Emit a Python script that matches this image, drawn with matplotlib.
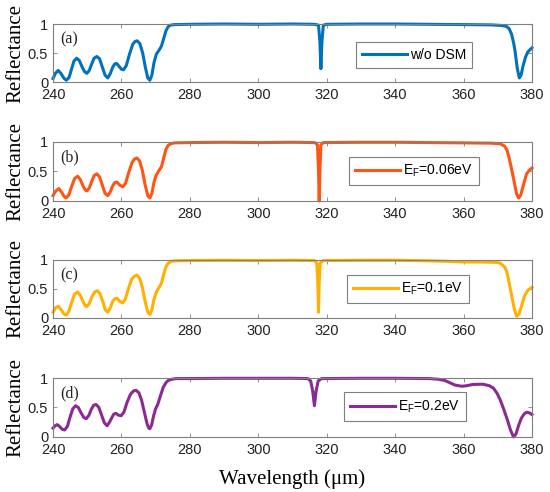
import numpy as np
import matplotlib.pyplot as plt

plt.rcParams['font.family'] = ['Liberation Sans', 'DejaVu Sans']
plt.rcParams['mathtext.fontset'] = 'custom'
plt.rcParams['mathtext.rm'] = 'Liberation Sans'

# (a) w/o DSM
wl_a = [240.0, 240.7, 241.5, 242.3, 243.1, 243.9, 244.7, 245.4, 246.1, 246.9,
        247.7, 248.5, 249.2, 249.9, 250.6, 251.3, 252.0, 252.8, 253.6, 254.4,
        255.2, 256.0, 256.7, 257.4, 258.0, 258.6, 259.3, 260.0, 260.6, 261.4,
        262.3, 263.3, 264.0, 264.6, 265.4, 266.2, 267.0, 267.7, 268.3, 268.9,
        269.5, 270.2, 271.0, 271.7, 272.4, 273.0, 273.6, 274.3, 275.5, 280.0,
        290.0, 300.0, 310.0, 316.5, 317.6, 318.0, 318.3, 318.6, 319.0, 320.0,
        330.0, 340.0, 350.0, 360.0, 368.0, 371.0, 372.5, 373.3, 374.0, 374.6,
        375.0, 375.7, 376.3, 376.8, 377.4, 378.1, 378.8, 380.0]
r_a = [0.06, 0.15, 0.20, 0.15, 0.07, 0.03, 0.08, 0.22, 0.36, 0.41,
       0.37, 0.26, 0.18, 0.15, 0.20, 0.31, 0.41, 0.44, 0.40, 0.26,
       0.12, 0.07, 0.14, 0.25, 0.31, 0.32, 0.27, 0.22, 0.21, 0.28,
       0.47, 0.65, 0.70, 0.71, 0.66, 0.50, 0.25, 0.07, 0.03, 0.12,
       0.33, 0.48, 0.55, 0.62, 0.76, 0.88, 0.95, 0.98, 0.99, 0.995,
       1.0, 0.995, 1.0, 0.995, 0.98, 0.70, 0.23, 0.70, 0.98, 0.995,
       1.0, 1.0, 0.995, 0.99, 0.985, 0.975, 0.96, 0.92, 0.83, 0.68,
       0.55, 0.23, 0.07, 0.12, 0.28, 0.43, 0.52, 0.59]

# (b) EF = 0.06 eV
wl_b = [240.0, 240.8, 241.7, 242.5, 243.2, 243.8, 244.6, 245.4, 246.3, 247.2,
        248.0, 248.8, 249.4, 249.9, 250.6, 251.3, 252.0, 252.8, 253.6, 254.4,
        255.2, 256.0, 256.7, 257.4, 258.0, 258.7, 259.5, 260.4, 261.2, 262.1,
        263.1, 263.8, 264.5, 265.3, 266.1, 266.9, 267.7, 268.3, 268.9, 269.5,
        270.1, 270.9, 271.7, 272.4, 273.0, 273.6, 274.4, 275.5, 280.0, 290.0,
        300.0, 310.0, 316.5, 317.3, 317.6, 317.8, 318.0, 318.3, 319.0, 330.0,
        340.0, 350.0, 360.0, 368.0, 370.7, 372.0, 372.7, 373.3, 374.0, 374.8,
        375.5, 376.1, 376.7, 377.4, 378.4, 379.2, 380.0]
r_b = [0.09, 0.17, 0.21, 0.15, 0.08, 0.05, 0.10, 0.24, 0.38, 0.42,
       0.36, 0.25, 0.19, 0.17, 0.22, 0.33, 0.43, 0.46, 0.41, 0.27,
       0.13, 0.09, 0.15, 0.25, 0.31, 0.32, 0.27, 0.24, 0.30, 0.48,
       0.65, 0.71, 0.73, 0.68, 0.52, 0.28, 0.09, 0.05, 0.13, 0.31,
       0.43, 0.51, 0.58, 0.74, 0.87, 0.94, 0.97, 0.985, 0.99, 0.995,
       0.99, 0.995, 0.99, 0.95, 0.50, 0.0, 0.50, 0.95, 0.99, 0.995,
       0.995, 0.99, 0.985, 0.98, 0.97, 0.93, 0.86, 0.73, 0.55, 0.32,
       0.12, 0.05, 0.10, 0.25, 0.46, 0.52, 0.56]

# (c) EF = 0.1 eV
wl_c = [240.0, 240.8, 241.6, 242.4, 243.2, 243.8, 244.6, 245.4, 246.3, 247.2,
        248.0, 248.8, 249.4, 249.9, 250.6, 251.4, 252.2, 253.0, 253.8, 254.6,
        255.3, 256.0, 256.7, 257.4, 258.0, 258.7, 259.5, 260.3, 261.1, 262.0,
        263.0, 263.8, 264.5, 265.3, 266.1, 266.9, 267.7, 268.3, 268.9, 269.5,
        270.1, 270.9, 271.7, 272.4, 273.0, 273.6, 274.4, 275.5, 280.0, 290.0,
        300.0, 310.0, 316.4, 317.1, 317.4, 317.6, 317.8, 318.1, 319.0, 330.0,
        340.0, 350.0, 356.0, 360.0, 365.0, 369.0, 370.6, 372.0, 372.6, 373.2,
        374.0, 374.8, 375.5, 376.2, 377.0, 377.8, 378.8, 380.0]
r_c = [0.10, 0.18, 0.20, 0.14, 0.07, 0.05, 0.11, 0.26, 0.41, 0.45,
       0.39, 0.28, 0.21, 0.20, 0.25, 0.37, 0.45, 0.47, 0.41, 0.27,
       0.14, 0.10, 0.17, 0.28, 0.33, 0.34, 0.29, 0.26, 0.32, 0.50,
       0.67, 0.72, 0.74, 0.69, 0.53, 0.29, 0.10, 0.06, 0.14, 0.32,
       0.43, 0.52, 0.60, 0.76, 0.88, 0.94, 0.97, 0.985, 0.99, 0.995,
       0.99, 0.995, 0.99, 0.95, 0.60, 0.10, 0.60, 0.95, 0.99, 0.995,
       0.995, 0.985, 0.975, 0.965, 0.965, 0.96, 0.95, 0.88, 0.80, 0.64,
       0.40, 0.16, 0.03, 0.07, 0.22, 0.38, 0.48, 0.53]

# (d) EF = 0.2 eV
wl_d = [240.0, 240.6, 241.2, 241.9, 242.7, 243.4, 244.2, 245.0, 245.8, 246.6,
        247.4, 248.2, 249.0, 249.7, 250.5, 251.2, 251.9, 252.6, 253.4, 254.2,
        255.0, 255.8, 256.5, 257.3, 257.8, 258.4, 259.1, 259.9, 260.7, 261.6,
        262.6, 263.5, 264.3, 265.1, 265.9, 266.7, 267.5, 268.0, 268.3, 268.8,
        269.4, 270.0, 270.6, 271.4, 272.2, 273.0, 273.7, 274.8, 276.0, 280.0,
        290.0, 300.0, 310.0, 314.5, 315.3, 315.9, 316.4, 316.9, 317.5, 318.5,
        330.0, 340.0, 350.0, 352.5, 354.4, 356.0, 357.5, 359.5, 361.0, 362.6,
        365.6, 367.5, 368.7, 369.8, 370.7, 371.8, 372.8, 373.7, 374.6, 375.3,
        376.1, 376.9, 377.7, 378.4, 379.2, 380.0]
r_d = [0.15, 0.19, 0.21, 0.18, 0.13, 0.12, 0.18, 0.34, 0.48, 0.53,
       0.50, 0.41, 0.33, 0.31, 0.37, 0.47, 0.54, 0.55, 0.50, 0.37,
       0.24, 0.19, 0.25, 0.34, 0.39, 0.40, 0.37, 0.36, 0.42, 0.58,
       0.72, 0.78, 0.79, 0.75, 0.62, 0.42, 0.22, 0.15, 0.14, 0.20,
       0.36, 0.48, 0.55, 0.70, 0.84, 0.92, 0.96, 0.98, 0.99, 0.99,
       0.995, 0.995, 0.995, 0.99, 0.95, 0.78, 0.53, 0.78, 0.95, 0.99,
       0.995, 0.995, 0.99, 0.98, 0.96, 0.92, 0.88, 0.86, 0.87, 0.89,
       0.895, 0.87, 0.83, 0.74, 0.63, 0.46, 0.29, 0.12, 0.00, 0.05,
       0.20, 0.32, 0.39, 0.42, 0.41, 0.38]

series = [
    (wl_a, r_a, '#0072BD', 'w/o DSM', '(a)'),
    (wl_b, r_b, '#FF5414', r'$\mathregular{E_F}$=0.06eV', '(b)'),
    (wl_c, r_c, '#FFB000', r'$\mathregular{E_F}$=0.1eV', '(c)'),
    (wl_d, r_d, '#8C2A94', r'$\mathregular{E_F}$=0.2eV', '(d)'),
]
x_ticks = [240, 260, 280, 300, 320, 340, 360, 380]
y_ticks = [0, 0.5, 1]
y_tick_labels = ['0', '0.5', '1']

# axes boxes (left, bottom, width, height) and legend anchors
boxes = [(0.0964, 0.8333, 0.8709, 0.1179),
         (0.0964, 0.5915, 0.8709, 0.1199),
         (0.0964, 0.3537, 0.8709, 0.1179),
         (0.0964, 0.1118, 0.8709, 0.1199)]
leg_anchor = [(0.633, 0.466), (0.618, 0.509), (0.614, 0.50), (0.608, 0.51)]

fig = plt.figure(figsize=(5.5, 4.92), dpi=100)
for i, (wl, r, col, lab, tag) in enumerate(series):
    ax = fig.add_axes(boxes[i])
    ax.plot(wl, r, color=col, linewidth=2.2, label=lab, clip_on=False)
    ax.set_xlim(240, 380)
    ax.set_ylim(0, 1)
    ax.set_xticks(x_ticks)
    ax.set_yticks(y_ticks)
    ax.set_yticklabels(y_tick_labels)
    ax.tick_params(direction='in', length=3, width=0.6, colors='#7f7f7f',
                   labelcolor='#222222', labelsize=10.5, top=True, right=True)
    ax.tick_params(axis='x', pad=4.5)
    ax.tick_params(axis='y', pad=3.5)
    for sp in ax.spines.values():
        sp.set_color('#7f7f7f')
        sp.set_linewidth(0.8)
    ax.set_ylabel('Reflectance', family='Liberation Serif', fontsize=15)
    ax.yaxis.set_label_coords(-0.057, 0.5)
    ax.text(0.015, 0.74, tag, transform=ax.transAxes, family='Liberation Serif',
            fontsize=11.5, va='center', ha='left', color='#222222')
    leg = ax.legend(loc='center left', bbox_to_anchor=leg_anchor[i], fontsize=10,
                    frameon=True, fancybox=False, framealpha=1, edgecolor='#7f7f7f',
                    handlelength=3.2, handletextpad=0.2, borderpad=0.45, borderaxespad=0)
    leg.get_frame().set_linewidth(0.8)
    if i == 3:
        ax.set_xlabel('Wavelength (μm)', family='Liberation Serif', fontsize=15, labelpad=9)

plt.savefig('out.png', dpi=100)
